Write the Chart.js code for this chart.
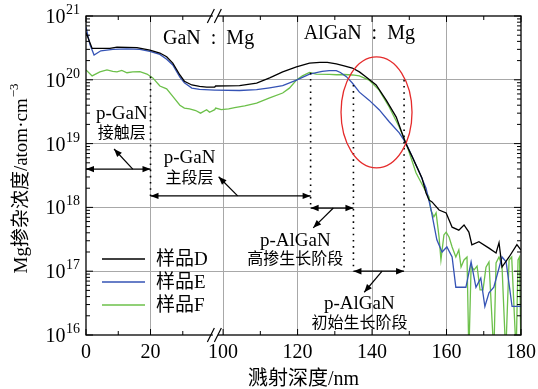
<!DOCTYPE html>
<html>
<head>
<meta charset="utf-8">
<script src="https://cdn.jsdelivr.net/npm/chart.js@4.4.1/dist/chart.umd.min.js"></script>
<style>
  html, body { margin: 0; padding: 0; background: #fff; }
  #wrap { width: 538px; height: 389px; }
</style>
</head>
<body>
<div id="wrap"><canvas id="chart" width="538" height="389"></canvas></div>
<script>
// sample names
const seriesNames = ["样品D", "样品E", "样品F"];
const seriesColors = ["#000000", "#3553b5", "#6cc04a"];

// sputter depth (nm) / Mg concentration (atom/cm^3), sample D
const depthD = [0, 1.9, 7.4, 9.6, 15.8, 19.8, 22.9, 25.0, 26.9, 29.1, 30.5, 32.8, 35.2, 37.4, 39.9,
  98.0, 104.4, 109.0, 112.5, 116.0, 119.7, 123.2, 126.0, 128.0, 130.4, 132.5, 134.7, 136.6, 138.4,
  141.1, 143.8, 146.5, 149.0, 150.8, 151.8, 153.4, 154.5, 155.3, 156.1, 158.0, 159.9, 161.5, 163.3,
  164.7, 166.0, 166.8, 168.7, 171.4, 173.3, 174.1, 174.9, 176.8, 178.9, 180];
const concD = [5.5e20, 3.1e20, 3.1e20, 3.25e20, 3.2e20, 2.93e20, 2.63e20, 2.3e20, 1.83e20, 1.19e20, 9.5e19, 8.3e19, 7.9e19, 7.7e19, 7.7e19,
  8.0e19, 8.1e19, 8.9e19, 1.07e20, 1.33e20, 1.59e20, 1.83e20, 1.88e20, 1.88e20, 1.77e20, 1.66e20, 1.53e20, 1.33e20, 1.11e20,
  8.3e19, 4.8e19, 2.6e19, 1.02e19, 6.2e18, 4.6e18, 2.9e18, 1.68e18, 1.31e18, 1.22e18, 9.1e17, 8.2e17, 4.9e17, 4.4e17,
  5.3e17, 4.1e17, 2.6e17, 2.9e17, 2.3e17, 1.93e17, 2.8e17, 1.16e17, 1.67e17, 2.6e17, 2.15e17];

// sample E
const depthE = [0, 1.2, 2.5, 4.6, 8.3, 12.7, 16.7, 19.8, 22.9, 25.0, 26.9, 29.1, 30.5, 32.8, 35.2, 39.9,
  98.0, 104.4, 109.0, 112.5, 116.0, 119.7, 123.2, 126.6, 128.5, 130.4, 131.5, 133.1, 134.7, 136.6, 139.2,
  141.9, 144.6, 147.3, 149.1, 150.8, 152.5, 154.5, 155.8, 157.4, 158.8, 160.1, 161.5, 162.5, 165.2,
  166.6, 167.9, 169.2, 170.3, 171.4, 172.7, 174.9, 176.0, 177.6, 180];
const concE = [6.7e20, 3.6e20, 2.45e20, 2.85e20, 3.0e20, 3.05e20, 3.0e20, 2.8e20, 2.5e20, 2.1e20, 1.71e20, 1.1e20, 9.0e19, 7.4e19, 7.1e19, 6.9e19,
  6.9e19, 6.8e19, 7.0e19, 7.5e19, 8.1e19, 9.9e19, 1.23e20, 1.36e20, 1.39e20, 1.39e20, 1.3e20, 1.12e20, 8.9e19, 6.4e19, 4.8e19,
  3.4e19, 2.2e19, 1.47e19, 1.02e19, 6.2e18, 3.8e18, 2.0e18, 9.5e17, 3.1e17, 2.0e17, 2.4e17, 1.67e17, 5.6e16, 5.6e16,
  1.4e17, 5.6e16, 7.8e16, 2.8e16, 4.6e16, 5.6e16, 1.67e17, 1.4e17, 2.8e16, 2.8e16];

// sample F
const depthF = [0, 1.9, 4.3, 6.5, 8.3, 9.6, 11.1, 12.7, 14.5, 16.7, 18.9, 20.7, 22.9, 25.0, 26.9, 29.1, 30.5, 32.1, 34.0, 35.5, 37.4, 38.3, 39.9,
  98.0, 99.5, 101.5, 103.1, 105.8, 109.0, 112.5, 116.0, 117.8, 119.7, 121.3, 123.2, 125.0, 128.5, 130.5, 132.5, 134.7, 136.6, 139.2,
  141.9, 144.6, 147.3, 149.1, 149.9, 151.8, 154.5, 155.3, 155.8, 156.6, 157.2, 158.0, 158.5, 159.3, 159.9, 160.7, 161.5, 162.5,
  163.3, 163.9, 164.7, 165.5, 166.0, 166.6, 167.4, 168.2, 169.0, 169.8, 170.6, 171.4, 172.7, 173.3, 174.1, 174.9, 175.9, 176.8,
  177.5, 178.7, 179.2, 179.6, 180];
const concF = [1.43e20, 1.15e20, 1.33e20, 1.43e20, 1.36e20, 1.33e20, 1.4e20, 1.29e20, 1.33e20, 1.34e20, 1.23e20, 1.07e20, 8.0e19, 7.2e19, 5.5e19, 4.0e19, 3.6e19, 3.5e19, 3.3e19, 3.0e19, 3.4e19, 3.1e19, 3.4e19,
  3.6e19, 3.4e19, 3.5e19, 3.65e19, 3.9e19, 4.3e19, 5.2e19, 6.2e19, 7.4e19, 9.9e19, 1.15e20, 1.3e20, 1.23e20, 1.22e20, 1.2e20, 1.21e20, 1.19e20, 1.15e20, 9.9e19,
  6.9e19, 3.75e19, 1.82e19, 1.02e19, 7.5e18, 3.5e18, 1.74e18, 1.46e18, 9.1e17, 7.1e17, 8.2e17, 3.4e17, 1.5e17, 3.7e17, 4.1e17, 3.4e17, 2.4e17, 1.67e17,
  2.15e17, 1.16e17, 1.5e17, 1.67e17, 5e15, 1.2e17, 1.05e17, 1.2e17, 5.1e16, 5.1e16, 1.16e17, 1.4e17, 5e15, 1.35e17, 1.67e17, 1.2e17, 5e15, 1.5e17,
  1.67e17, 5e15, 1.5e17, 1.67e17, 5e15];

// axis ticks (depth, nm) and decades (log10)
const xTickLabels = [0, 20, 100, 120, 140, 160, 180];
const xMinorTicks = [10, 30, 110, 130, 150, 170];
const xGridAt = [20, 100, 120, 140, 160];
const yDecades = [16, 17, 18, 19, 20, 21];

// broken x axis: 0..40 nm squeezed onto the left, 98..180 nm on the right
const V0 = 63.18, K = 0.8664, BREAK = 40;
function toV(d) { return d <= 50 ? V0 + K * d : d; }
function pts(depth, conc) { return depth.map((d, i) => ({ x: toV(d), y: conc[i] })); }

const serif = '"Liberation Serif", "Noto Sans CJK SC", serif';

function arrowHead(ctx, x1, y1, x2, y2) {
  const ang = Math.atan2(y2 - y1, x2 - x1), L = 8, W = 3.2;
  ctx.beginPath();
  ctx.moveTo(x2, y2);
  ctx.lineTo(x2 - L * Math.cos(ang) + W * Math.sin(ang), y2 - L * Math.sin(ang) - W * Math.cos(ang));
  ctx.lineTo(x2 - L * Math.cos(ang) - W * Math.sin(ang), y2 - L * Math.sin(ang) + W * Math.cos(ang));
  ctx.closePath();
  ctx.fill();
}

function line(ctx, x1, y1, x2, y2) {
  ctx.beginPath(); ctx.moveTo(x1, y1); ctx.lineTo(x2, y2); ctx.stroke();
}

const decor = {
  id: "decor",
  afterDraw(chart) {
    const ctx = chart.ctx, a = chart.chartArea;
    const xs = chart.scales.x, ys = chart.scales.y;
    const X = d => xs.getPixelForValue(toV(d));
    const Y = lg => ys.getPixelForValue(Math.pow(10, lg));
    ctx.save();
    ctx.strokeStyle = "#000"; ctx.fillStyle = "#000";

    // frame
    ctx.lineWidth = 1.3;
    ctx.strokeRect(a.left, a.top, a.right - a.left, a.bottom - a.top);

    // y ticks (inward, both sides)
    ctx.lineWidth = 1;
    yDecades.forEach(e => {
      const y = Y(e);
      line(ctx, a.left, y, a.left + 7, y); line(ctx, a.right, y, a.right - 7, y);
      if (e < 21) for (let m = 2; m <= 9; m++) {
        const ym = ys.getPixelForValue(m * Math.pow(10, e));
        line(ctx, a.left, ym, a.left + 4, ym); line(ctx, a.right, ym, a.right - 4, ym);
      }
    });
    // x ticks
    xTickLabels.forEach(d => {
      line(ctx, X(d), a.bottom, X(d), a.bottom - 6); line(ctx, X(d), a.top, X(d), a.top + 6);
    });
    xMinorTicks.forEach(d => {
      line(ctx, X(d), a.bottom, X(d), a.bottom - 4); line(ctx, X(d), a.top, X(d), a.top + 4);
    });

    // axis break marks
    const xb = (X(BREAK) + X(98)) / 2;
    [a.top, a.bottom].forEach(yb => {
      ctx.fillStyle = "#fff";
      ctx.fillRect(xb - 2.5, yb - 2, 5, 4);
      ctx.fillStyle = "#000";
      ctx.lineWidth = 1.2;
      line(ctx, xb - 8, yb + 7, xb - 1, yb - 7);
      line(ctx, xb - 1, yb + 7, xb + 6, yb - 7);
    });

    // tick labels
    ctx.font = "20px " + serif;
    ctx.textAlign = "center"; ctx.textBaseline = "alphabetic";
    xTickLabels.forEach(d => ctx.fillText(String(d), X(d), a.bottom + 23));
    ctx.textAlign = "right";
    yDecades.forEach(e => {
      const y = Y(e);
      ctx.font = "14px " + serif;
      const w = ctx.measureText(String(e)).width;
      ctx.fillText(String(e), a.left - 6, y - 2);
      ctx.font = "20px " + serif;
      ctx.fillText("10", a.left - 6 - w - 0.5, y + 7);
    });

    // axis titles
    ctx.textAlign = "center";
    ctx.font = "20px " + serif;
    ctx.fillText("溅射深度/nm", (a.left + a.right) / 2, a.bottom + 50);
    ctx.save();
    ctx.translate(21, 179);
    ctx.rotate(-Math.PI / 2);
    ctx.font = "19px " + serif;
    const main = "Mg掺杂浓度/atom·cm", w1 = ctx.measureText(main).width;
    ctx.font = "13px " + serif;
    const sup = "−3", w2 = ctx.measureText(sup).width;
    ctx.textAlign = "left"; ctx.textBaseline = "alphabetic";
    ctx.font = "19px " + serif;
    ctx.fillText(main, -(w1 + w2) / 2, 6);
    ctx.font = "13px " + serif;
    ctx.fillText(sup, -(w1 + w2) / 2 + w1 + 1, -3);
    ctx.restore();

    // region labels
    ctx.textAlign = "center"; ctx.textBaseline = "alphabetic";
    ctx.font = "20px " + serif;
    ctx.fillText("GaN  :  Mg", X(38), Y(20.56));
    ctx.fillText("AlGaN  :  Mg", X(136.6), Y(20.64));

    // dotted boundaries
    ctx.save();
    ctx.lineWidth = 1.6; ctx.setLineDash([1.6, 4.6]);
    line(ctx, X(20), Y(20.05), X(20), Y(18.18));
    line(ctx, X(123.5), Y(20.11), X(123.5), Y(17.99));
    line(ctx, X(135), Y(19.92), X(135), Y(17.0));
    line(ctx, X(148.6), Y(20.0), X(148.6), Y(17.0));
    ctx.restore();

    // double arrows with pointers
    ctx.lineWidth = 1.2;
    const spans = [
      { d1: 0, d2: 20, lg: 18.6, p: [14.5, 8.7, 18.915] },
      { d1: 20, d2: 123.5, lg: 18.18, p: [103.9, 98.8, 18.48] },
      { d1: 123.5, d2: 135, lg: 17.99, p: [129.6, 124.2, 17.68] },
      { d1: 135, d2: 148.6, lg: 17.0, p: [142.7, 137.9, 16.67] }
    ];
    spans.forEach(s => {
      const y = Y(s.lg), x1 = X(s.d1), x2 = X(s.d2);
      line(ctx, x1, y, x2, y);
      arrowHead(ctx, x2, y, x1, y);
      arrowHead(ctx, x1, y, x2, y);
      const px1 = X(s.p[0]), px2 = X(s.p[1]), py2 = Y(s.p[2]);
      line(ctx, px1, y, px2, py2);
      arrowHead(ctx, px1, y, px2, py2);
    });

    // layer names
    const notes = [
      ["p-GaN", "接触层", 11.1, 19.48, 19.18],
      ["p-GaN", "主段层", 32.1, 18.79, 18.48],
      ["p-AlGaN", "高掺生长阶段", 119.4, 17.49, 17.21],
      ["p-AlGaN", "初始生长阶段", 136.6, 16.5, 16.2]
    ];
    notes.forEach(n => {
      ctx.font = "19px " + serif;
      ctx.fillText(n[0], X(n[2]), Y(n[3]) + 6);
      ctx.font = "16px " + serif;
      ctx.fillText(n[1], X(n[2]), Y(n[4]) + 6);
    });

    // red ellipse
    ctx.strokeStyle = "#e52b2b"; ctx.lineWidth = 1.3;
    ctx.beginPath();
    ctx.ellipse(X(141.2), Y(19.49), 35.5, 55.5, 0, 0, Math.PI * 2);
    ctx.stroke();

    // legend
    ctx.textAlign = "left"; ctx.textBaseline = "middle";
    ctx.font = "19px " + serif;
    chart.data.datasets.forEach((ds, i) => {
      const y = a.top + 243 + i * 23;
      ctx.strokeStyle = ds.borderColor; ctx.lineWidth = 1.3;
      line(ctx, a.left + 16, y, a.left + 59, y);
      ctx.fillStyle = "#000";
      ctx.fillText(ds.label, a.left + 70, y + 1);
    });
    ctx.restore();
  }
};

const series = [[depthD, concD], [depthE, concE], [depthF, concF]];

new Chart(document.getElementById("chart").getContext("2d"), {
  type: "line",
  data: {
    datasets: series.map((s, i) => ({
      label: seriesNames[i],
      data: pts(s[0], s[1]),
      borderColor: seriesColors[i],
      borderWidth: 1.3,
      pointRadius: 0,
      tension: 0,
      fill: false
    }))
  },
  options: {
    responsive: false,
    animation: false,
    devicePixelRatio: 1,
    layout: { padding: { left: 86, right: 17, top: 16, bottom: 54 } },
    plugins: { legend: { display: false }, tooltip: { enabled: false } },
    scales: {
      x: {
        type: "linear", min: toV(0), max: 180,
        afterBuildTicks: s => { s.ticks = xGridAt.map(d => ({ value: toV(d) })); },
        ticks: { display: false },
        grid: { color: "#a8a8a8", lineWidth: 1, drawTicks: false },
        border: { display: false }
      },
      y: {
        type: "logarithmic", min: 1e16, max: 1e21,
        afterBuildTicks: s => { s.ticks = yDecades.slice(1, -1).map(e => ({ value: Math.pow(10, e) })); },
        ticks: { display: false },
        grid: { color: "#a8a8a8", lineWidth: 1, drawTicks: false },
        border: { display: false }
      }
    }
  },
  plugins: [decor]
});
</script>
</body>
</html>
